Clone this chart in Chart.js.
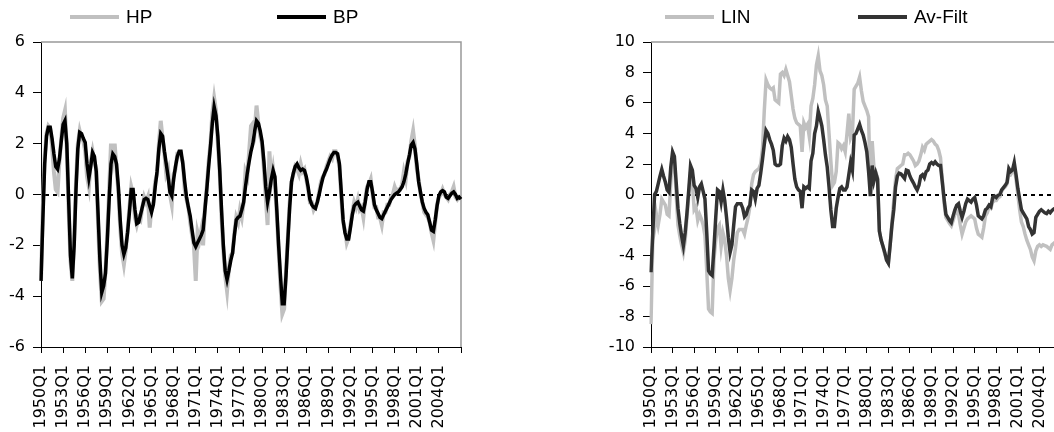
<!DOCTYPE html>
<html>
<head>
<meta charset="utf-8">
<script src="https://cdn.jsdelivr.net/npm/chart.js@4.4.1/dist/chart.umd.min.js"></script>
<style>
  html, body { margin: 0; padding: 0; background: #fff; overflow: hidden; width: 1054px; height: 432px; }
  canvas { position: absolute; top: 0; }
  #chartLeft { left: 0; }
  #chartRight { left: 600px; }
  .leg { position: absolute; top: 6px; font: 19px "Liberation Sans", Arial, sans-serif; color: #000; white-space: nowrap; }
  .leg span { display: inline-block; width: 49px; height: 4px; vertical-align: middle; margin-right: 7px; position: relative; top: -1px; }
</style>
</head>
<body>
<canvas id="chartLeft" width="480" height="432"></canvas>
<canvas id="chartRight" width="461" height="432"></canvas>

<div class="leg" style="left:70px"><span style="background:#c0c0c0"></span>HP</div>
<div class="leg" style="left:277px"><span style="background:#000"></span>BP</div>
<div class="leg" style="left:665px"><span style="background:#c0c0c0"></span>LIN</div>
<div class="leg" style="left:858px"><span style="background:#333"></span>Av-Filt</div>

<script>
// kuartal 1950Q1 .. 2007Q1
const quarters = [];
for (let y = 1950; y <= 2007; y++) {
    for (let q = 1; q <= 4; q++) {
        if (y === 2007 && q > 1) break;
        quarters.push(y + 'Q' + q);
    }
}

const leftTicks = [-6, -4, -2, 0, 2, 4, 6];
const rightTicks = [-10, -8, -6, -4, -2, 0, 2, 4, 6, 8, 10];

const hp = [
    -3.4,-0.5,1.5,2.4,2.7,2.6,1.9,0.9,0.2,0.1,1.3,2.2,
    3.0,3.3,1.8,-0.6,-2.6,-3.4,-1.8,0.5,2.0,2.5,2.2,2.1,
    1.7,0.7,0.3,1.3,1.7,1.3,1.0,-1.2,-3.0,-4.2,-4.1,-3.0,
    -1.5,0.2,2.0,1.4,2.0,1.0,0.1,-1.3,-2.3,-2.75,-2.2,-1.4,
    -0.5,0.3,0.0,-0.9,-1.2,-0.9,-1.0,-0.5,-0.1,-0.3,-0.1,-1.3,
    -0.5,-0.3,0.5,0.8,2.0,2.9,2.2,1.6,0.8,1.0,0.0,-0.4,
    0.8,1.0,1.6,1.6,1.5,1.3,0.2,-0.2,-0.5,-1.1,-1.6,-2.0,
    -3.4,-1.5,-1.8,-1.4,-2.0,-0.5,0.3,1.3,2.0,3.2,3.8,3.3,
    2.0,0.9,-0.9,-2.2,-3.2,-3.8,-2.9,-2.4,-2.3,-1.5,-0.9,-1.1,
    -0.6,-0.9,-0.3,0.9,0.7,1.7,2.7,2.8,2.5,3.5,2.8,2.3,
    2.0,1.0,-0.1,-1.2,1.7,0.5,1.0,0.4,-0.8,-2.2,-3.6,-4.7,
    -4.5,-3.0,-1.7,-0.3,0.5,0.8,1.1,1.0,0.8,1.2,0.9,1.0,
    0.6,0.2,-0.3,-0.3,-0.6,-0.45,-0.3,0.1,0.5,0.7,0.8,1.1,
    1.3,1.5,1.4,1.7,1.7,1.5,1.1,-0.1,-1.1,-1.4,-1.9,-1.7,
    -1.2,-0.7,-0.3,-0.5,-0.2,-0.6,-0.5,-0.9,-0.2,0.3,0.4,0.6,
    0.0,-0.5,-0.5,-0.9,-0.9,-1.2,-0.7,-0.7,-0.4,-0.4,-0.1,0.0,
    0.3,0.1,0.2,0.2,0.4,0.9,0.6,1.3,1.5,2.1,2.5,1.9,
    1.0,0.6,0.0,-0.3,-0.7,-0.8,-0.9,-1.1,-1.5,-1.8,-1.1,-0.4,
    -0.1,0.0,0.2,0.0,-0.1,-0.2,0.0,0.1,0.3,-0.1,-0.2,-0.1,-0.15
];

const bp = [
    -3.4,-1.0,1.2,2.3,2.65,2.65,2.2,1.6,1.1,1.0,1.4,2.1,
    2.75,2.9,2.0,-0.2,-2.4,-3.3,-2.0,0.2,1.8,2.45,2.4,2.2,
    2.05,1.2,0.65,1.1,1.65,1.5,0.9,-0.8,-2.6,-3.85,-3.6,-3.1,
    -1.8,-0.2,1.2,1.6,1.5,1.2,0.3,-1.0,-2.0,-2.35,-2.1,-1.5,
    -0.7,0.2,0.2,-0.6,-1.15,-1.1,-0.8,-0.5,-0.2,-0.15,-0.2,-0.45,
    -0.7,-0.4,0.3,0.9,1.8,2.4,2.3,1.7,1.2,0.7,0.1,-0.05,
    0.6,1.1,1.5,1.7,1.7,1.2,0.5,-0.1,-0.5,-0.85,-1.4,-1.9,
    -2.05,-1.9,-1.75,-1.6,-1.4,-0.6,0.2,1.1,1.9,2.8,3.45,3.1,
    2.3,1.0,-0.6,-2.0,-3.0,-3.35,-3.0,-2.6,-2.3,-1.6,-1.0,-0.9,
    -0.85,-0.6,-0.3,0.3,0.85,1.3,1.7,2.0,2.5,2.9,2.8,2.5,
    2.1,1.3,0.3,-0.3,0.1,0.6,0.95,0.7,-0.6,-2.0,-3.2,-4.3,
    -4.3,-3.2,-1.8,-0.5,0.5,0.85,1.1,1.2,1.05,0.95,1.0,0.95,
    0.7,0.3,-0.2,-0.4,-0.5,-0.55,-0.3,0.0,0.35,0.65,0.85,1.0,
    1.2,1.4,1.55,1.65,1.65,1.6,1.2,0.1,-1.0,-1.5,-1.75,-1.75,
    -1.3,-0.8,-0.45,-0.35,-0.3,-0.45,-0.6,-0.65,-0.3,0.2,0.5,0.5,
    0.1,-0.4,-0.6,-0.75,-0.9,-0.95,-0.8,-0.65,-0.5,-0.35,-0.2,-0.1,
    0.0,0.05,0.1,0.2,0.3,0.5,0.8,1.2,1.55,1.95,2.05,1.8,
    1.2,0.5,0.1,-0.3,-0.55,-0.7,-0.8,-1.1,-1.4,-1.45,-1.0,-0.45,
    -0.05,0.1,0.15,0.1,-0.1,-0.15,-0.05,0.05,0.1,0.0,-0.15,-0.1,-0.18
];

const lin = [
    -8.5,-3.0,-2.3,-1.3,-2.0,-1.3,-0.3,-0.5,-0.7,-1.3,-1.4,0.8,
    2.4,2.2,0.0,-2.0,-2.7,-3.3,-3.8,-3.0,-1.5,0.0,1.4,0.8,
    -1.0,-0.8,-1.7,-1.3,-1.6,-2.0,-2.7,-5.0,-7.5,-7.7,-7.8,-4.3,
    -3.0,-2.2,-2.0,-3.4,-2.5,-3.0,-4.0,-5.5,-6.3,-5.5,-4.3,-3.5,
    -2.5,-2.3,-2.3,-2.3,-2.6,-2.0,-1.5,-0.8,0.7,1.3,1.5,1.6,
    1.7,2.0,3.0,5.5,7.5,7.2,7.0,6.9,7.0,6.2,6.1,6.0,
    7.9,8.0,7.8,8.2,7.8,7.4,6.5,5.6,5.0,4.7,4.6,4.5,
    2.8,4.7,4.4,4.6,3.8,5.8,6.3,7.2,8.5,9.1,8.1,7.8,
    7.2,6.2,5.8,4.0,2.2,0.6,0.8,1.5,3.4,3.3,3.0,3.2,
    2.8,4.0,5.3,3.7,4.0,6.9,7.1,7.3,7.7,6.8,6.1,5.8,
    5.5,5.1,-0.1,3.5,1.7,1.5,1.1,-2.4,-3.0,-3.4,-3.9,-4.3,
    -4.5,-3.3,-1.8,-0.4,1.0,1.7,1.8,1.9,2.0,2.6,2.6,2.7,
    2.6,2.4,2.2,1.9,2.0,2.2,2.6,3.1,2.9,3.3,3.4,3.5,
    3.6,3.5,3.3,3.2,2.9,2.4,1.0,-0.6,-1.5,-1.7,-1.9,-2.05,
    -1.7,-1.3,-1.1,-1.3,-2.0,-2.6,-2.2,-1.8,-1.6,-1.5,-1.4,-1.5,
    -1.6,-2.2,-2.6,-2.7,-2.8,-2.2,-1.4,-1.2,-0.8,-0.9,-0.5,-0.4,
    -0.4,-0.2,-0.15,0.2,0.4,0.5,0.7,1.4,1.3,1.5,1.7,1.0,
    0.0,-1.0,-1.8,-2.1,-2.6,-3.0,-3.3,-3.6,-4.1,-4.35,-3.7,-3.4,
    -3.3,-3.4,-3.3,-3.35,-3.4,-3.5,-3.6,-3.3,-3.2,-3.3,-3.4,-3.3,-3.4
];

const avFilt = [
    -5.1,-2.5,0.0,0.2,0.7,1.2,1.65,1.2,0.8,0.3,0.15,1.8,
    2.8,2.5,0.8,-0.9,-1.9,-2.7,-3.35,-2.5,-1.2,0.3,1.9,1.6,
    0.6,0.4,-0.2,0.5,0.7,0.2,-0.3,-2.5,-5.0,-5.2,-5.3,-3.5,
    -1.5,0.3,0.2,-0.5,0.3,-0.4,-1.5,-2.8,-3.8,-3.3,-2.0,-0.8,
    -0.6,-0.6,-0.6,-0.9,-1.45,-1.3,-0.9,-0.7,0.3,0.2,-0.3,0.4,
    0.6,1.4,2.3,3.3,4.2,4.0,3.6,3.3,2.9,2.0,1.9,1.9,
    2.0,3.2,3.7,3.5,3.8,3.6,3.1,2.0,1.0,0.5,0.3,0.2,
    -0.9,0.5,0.4,0.5,0.4,2.2,2.7,4.0,4.5,5.45,5.0,4.5,
    3.6,2.6,1.8,0.5,-1.0,-2.1,-2.1,-0.9,-0.2,0.4,0.5,0.3,
    0.3,0.5,1.3,2.1,1.6,3.9,4.0,4.3,4.6,4.2,3.9,3.4,
    2.8,1.5,-0.1,1.9,0.9,1.4,1.0,-2.4,-3.0,-3.4,-3.8,-4.3,
    -4.5,-3.3,-2.0,-1.0,0.5,1.2,1.4,1.35,1.2,1.05,1.6,1.55,
    1.2,0.95,0.75,0.5,0.3,0.6,1.2,1.3,1.1,1.5,1.6,2.0,
    2.1,2.0,2.15,2.0,1.9,1.9,0.8,-0.3,-1.3,-1.5,-1.7,-1.85,
    -1.4,-1.0,-0.7,-0.6,-1.1,-1.5,-1.1,-0.6,-0.3,-0.4,-0.5,-0.3,
    -0.2,-0.7,-1.4,-1.5,-1.6,-1.4,-1.0,-0.9,-0.7,-0.8,-0.2,-0.1,
    -0.2,-0.05,0.0,0.3,0.45,0.6,0.8,1.7,1.5,1.6,2.1,1.3,
    0.4,-0.3,-1.0,-1.2,-1.4,-1.6,-2.1,-2.3,-2.6,-2.5,-1.5,-1.3,
    -1.1,-1.0,-1.1,-1.2,-1.25,-1.1,-1.2,-1.05,-0.95,-1.0,-1.1,-1.0,-1.1
];

// bingkai abu-abu (atas & kanan) dan garis nol putus-putus
const framePlugin = {
    id: 'frame',
    beforeDatasetsDraw(chart) {
        const { ctx, chartArea: a, scales } = chart;
        ctx.save();
        ctx.strokeStyle = '#999';
        ctx.lineWidth = 1.5;
        ctx.beginPath();
        ctx.moveTo(a.left, a.top);
        ctx.lineTo(a.right, a.top);
        ctx.lineTo(a.right, a.bottom);
        ctx.stroke();
        const y0 = Math.round(scales.y.getPixelForValue(0));
        ctx.strokeStyle = '#000';
        ctx.lineWidth = 2;
        ctx.setLineDash([4, 4]);
        ctx.beginPath();
        ctx.moveTo(a.left + 4, y0);
        ctx.lineTo(a.right, y0);
        ctx.stroke();
        ctx.restore();
    }
};

const tickFont = { family: '"DejaVu Sans", sans-serif', size: 16 };

/**
 * Render satu panel grafik garis
 */
function renderPanel(id, series, yTicks, yWidth, padRight) {
    const ctx = document.getElementById(id);
    new Chart(ctx, {
        type: 'line',
        data: {
            labels: quarters,
            datasets: series.map(s => ({
                label: s.label,
                data: s.data,
                borderColor: s.color,
                borderWidth: s.width,
                order: s.order,
                pointRadius: 0,
                tension: 0,
                fill: false
            }))
        },
        options: {
            responsive: false,
            animation: false,
            layout: { padding: { top: 42, right: padRight, left: 0, bottom: 0 } },
            plugins: { legend: { display: false }, tooltip: { enabled: false } },
            scales: {
                x: {
                    type: 'category',
                    offset: false,
                    border: { color: '#000', width: 1 },
                    grid: { drawOnChartArea: false, drawTicks: true, tickLength: 6, color: '#000' },
                    ticks: {
                        autoSkip: false,
                        minRotation: 90,
                        maxRotation: 90,
                        padding: 12,
                        color: '#000',
                        font: { family: '"DejaVu Sans", sans-serif', size: 16 },
                        callback(v, i) {
                            if (i === quarters.length - 1) return '';
                            return i % 12 === 0 ? quarters[i] : null;
                        }
                    },
                    afterFit(scale) { scale.height = 85; scale.paddingLeft = 0; scale.paddingRight = 0; }
                },
                y: {
                    min: yTicks[0],
                    max: yTicks[yTicks.length - 1],
                    border: { color: '#000', width: 1 },
                    grid: { drawOnChartArea: false, drawTicks: true, tickLength: 8, color: '#000' },
                    afterBuildTicks(scale) { scale.ticks = yTicks.map(v => ({ value: v })); },
                    ticks: { padding: 8, color: '#000', font: tickFont },
                    afterFit(scale) { scale.width = yWidth; }
                }
            }
        },
        plugins: [framePlugin]
    });
}

renderPanel('chartLeft', [
    { label: 'HP', data: hp, color: '#c0c0c0', width: 4, order: 2 },
    { label: 'BP', data: bp, color: '#000000', width: 3.5, order: 1 }
], leftTicks, 41, 19);

renderPanel('chartRight', [
    { label: 'LIN', data: lin, color: '#c0c0c0', width: 3.5, order: 2 },
    { label: 'Av-Filt', data: avFilt, color: '#333333', width: 3.5, order: 1 }
], rightTicks, 51, 0);
</script>
</body>
</html>
